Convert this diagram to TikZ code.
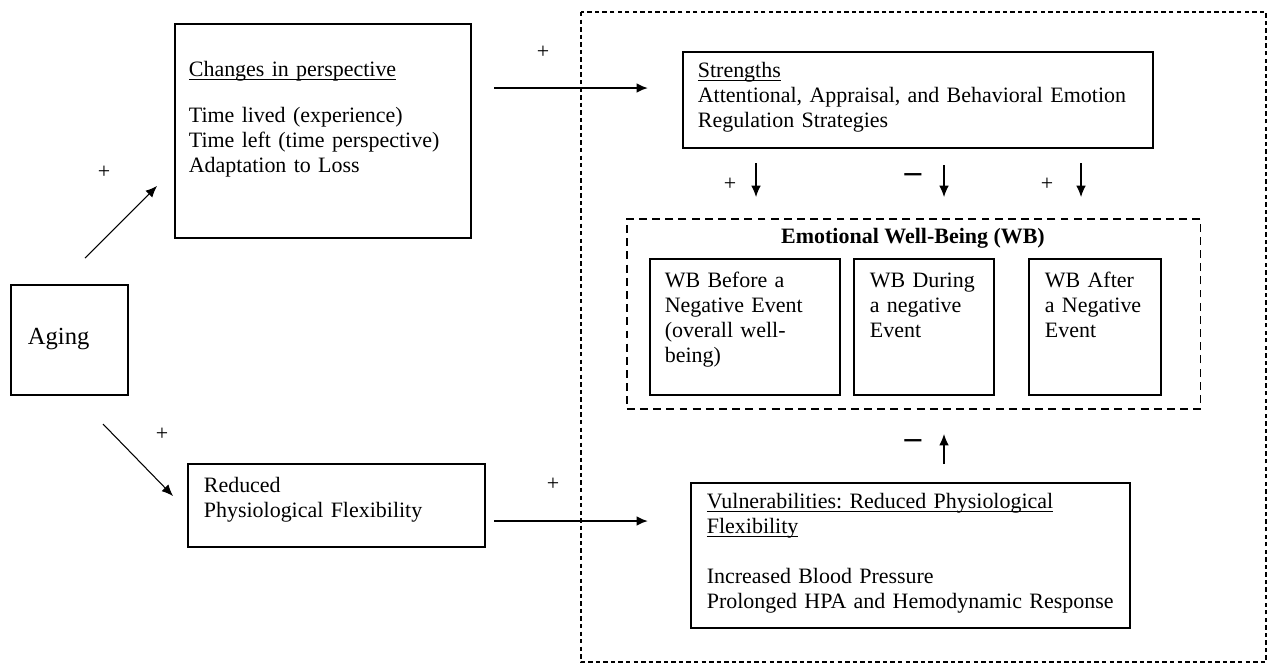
\documentclass[tikz,border=0pt]{standalone}
\usepackage{fontspec}
\setmainfont{Liberation Serif}
\usepackage{tikz}
\usetikzlibrary{arrows.meta}
\newcommand{\uln}[1]{\leavevmode\setbox0\hbox{#1}\rlap{\rule[-1.8pt]{\wd0}{0.5pt}}\box0}
\frenchspacing

\begin{document}
\begin{tikzpicture}[x=0.02cm,y=-0.02cm,>={Latex[length=6.5pt,width=5.5pt]},semithick]
	\tikzstyle{box}=[draw, line width=1pt, anchor=north west, align=left, inner ysep=0pt, font=\fontsize{12.5}{14.2}\selectfont]
	\tikzstyle{sign}=[font=\fontsize{12.5}{14.2}\selectfont]
	\tikzstyle{minus}=[font=\bfseries\fontsize{19}{19}\selectfont]
	\useasboundingbox (0,0) rectangle (1275,664);
	% outer frame
	\draw[line width=0.7pt, dash pattern=on 2.5pt off 1.8pt] (581,12) rectangle (1266,662);
	\node[box, font=\fontsize{14}{16}\selectfont, inner xsep=0.34cm, text width=1.66cm, text height=1.2cm, text depth=1cm] (A) at (10,284) {Aging};
	\node[box, inner xsep=0.28cm, text width=5.36cm, text height=1.06cm, text depth=3.22cm] (C) at (174,23)
		{\uln{Changes in perspective}\\[12pt]Time lived (experience)\\Time left (time perspective)\\Adaptation to Loss};
	\node[box, inner xsep=0.32cm, text width=5.3cm, text height=0.58cm, text depth=1.08cm] (R) at (187,463)
		{Reduced\\Physiological Flexibility};
	\node[box, inner xsep=0.3cm, text width=8.8cm, text height=0.52cm, text depth=1.4cm] (S) at (682,51)
		{\uln{Strengths}\\Attentional, Appraisal, and Behavioral Emotion\\Regulation Strategies};
	\node[draw, line width=0.9pt, dash pattern=on 4.5pt off 3pt, anchor=north west, inner sep=0pt, minimum width=11.48cm, minimum height=3.8cm] (W) at (626,218) {};
	\node[sign, font=\bfseries\fontsize{12.5}{14.2}\selectfont] (T) at (913,238) {Emotional Well-Being (WB)};
	\node[box, inner xsep=0.3cm, text width=3.2cm, text height=0.58cm, text depth=2.14cm] (W1) at (649,258)
		{WB Before a\\Negative Event\\(overall well-\\being)};
	\node[box, inner xsep=0.32cm, text width=2.16cm, text height=0.58cm, text depth=2.14cm] (W2) at (853,258)
		{WB During\\a negative\\Event};
	\node[box, inner xsep=0.32cm, text width=2cm, text height=0.58cm, text depth=2.14cm] (W3) at (1028,258)
		{WB After\\a Negative\\Event};
	\node[box, inner xsep=0.32cm, text width=8.14cm, text height=0.52cm, text depth=2.38cm] (V) at (690,482)
		{\uln{Vulnerabilities: Reduced Physiological}\\\uln{Flexibility}\\[14pt]Increased Blood Pressure\\Prolonged HPA and Hemodynamic Response};
	% signs
	\node[sign] (p1) at (104,172) {+};
	\node[sign] (p2) at (162,434) {+};
	\node[sign] (p3) at (543,52) {+};
	\node[sign] (p4) at (553,484) {+};
	\node[sign] (p5) at (730,184) {+};
	\node[sign] (p6) at (1047,184) {+};
	\node[minus] (m1) at (913,178) {--};
	\node[minus] (m2) at (913,444) {--};
	% arrow ends
	\coordinate (a1) at (85,258);
	\coordinate (a2) at (157,186);
	\coordinate (a3) at (103,424);
	\coordinate (a4) at (173,496);
	\coordinate (c1) at (494,88);
	\coordinate (c2) at (648,88);
	\coordinate (r1) at (494,521);
	\coordinate (r2) at (648,521);
	\coordinate (s1) at (756,163);
	\coordinate (s2) at (756,197);
	\coordinate (s3) at (944,165);
	\coordinate (s4) at (944,197);
	\coordinate (s5) at (1081,163);
	\coordinate (s6) at (1081,197);
	\coordinate (v1) at (944,464);
	\coordinate (v2) at (944,434);
	\path[->]
		(a1) edge (a2)
		(a3) edge (a4)
		(c1) edge[line width=1.1pt] (c2)
		(r1) edge[line width=1.1pt] (r2)
		(s1) edge (s2)
		(s3) edge (s4)
		(s5) edge (s6)
		(v1) edge (v2);
\end{tikzpicture}
\end{document}
